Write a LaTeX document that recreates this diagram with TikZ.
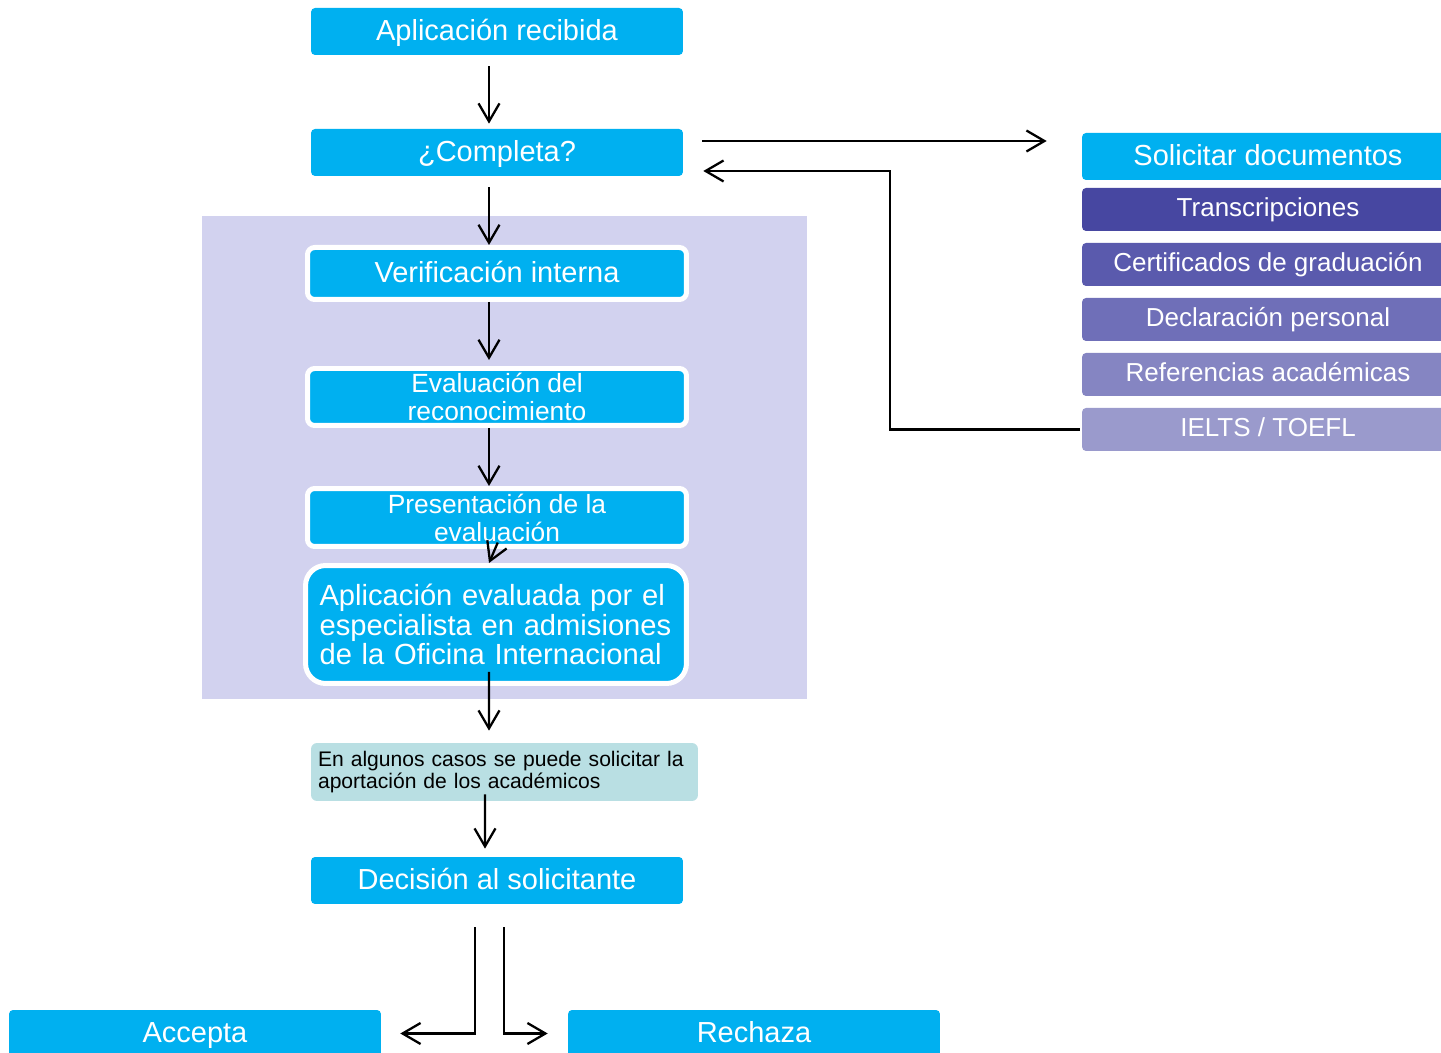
\documentclass[tikz,border=0pt]{standalone}
\usepackage{fontspec}
\setmainfont{Liberation Sans}
\usetikzlibrary{arrows.meta}
\definecolor{cyanbox}{HTML}{00B0F0}
\definecolor{panel}{HTML}{D2D2EF}
\definecolor{notecol}{HTML}{B9DFE3}
\definecolor{docA}{HTML}{4747A1}
\definecolor{docB}{HTML}{5A5AAD}
\definecolor{docC}{HTML}{6F6FB8}
\definecolor{docD}{HTML}{8585C2}
\definecolor{docE}{HTML}{9A9ACC}
\begin{document}
\begin{tikzpicture}[x=0.02cm,y=-0.02cm,
  arr/.style={-{Straight Barb[length=0.36cm,width=0.42cm]},line width=1.3pt},
  box/.style={fill=cyanbox,rounded corners=0.08cm,minimum width=7.44cm,minimum height=0.94cm,inner sep=0pt,text=white,text height=13.7pt,text depth=3.5pt,font=\fontsize{16.5}{18}\selectfont},
  wbox/.style={box,draw=white,line width=0.1cm,minimum width=7.58cm,minimum height=1.04cm,rounded corners=0.14cm},
  doc/.style={rounded corners=0.08cm,minimum width=7.44cm,minimum height=0.86cm,inner sep=0pt,text=white,text height=11.3pt,text depth=3.1pt,font=\fontsize{14.8}{16}\selectfont}]

\useasboundingbox (0,0) rectangle (1441,1053);
\clip (0,0) rectangle (1441,1053);

% fondo de la evaluacion interna
\fill[panel] (202,216) rectangle (807,699);

\node[box] (rec) at (497,31.5) {Aplicación recibida};
\node[box] (comp) at (497,152.5) {¿Completa?};
\node[wbox] (verif) at (497,273.5) {Verificación interna};
\node[wbox,text height=,text depth=,minimum height=1.14cm,align=center,font=\fontsize{15}{16}\selectfont] (evrec) at (497,397) {Evaluación del\\reconocimiento};
\node[wbox,text height=,text depth=,minimum height=1.16cm,align=center,font=\fontsize{15}{16}\selectfont] (pres) at (497,517.5) {Presentación de la\\evaluación};
\node[wbox,text height=,text depth=,rounded corners=0.4cm,minimum width=7.62cm,minimum height=2.36cm,align=left,text width=7.06cm,inner xsep=0.28cm,font=\fontsize{16.6}{17}\selectfont] (esp) at (496,624.5) {Aplicación evaluada por el\\especialista en admisiones\\de la Oficina Internacional};
\node[fill=notecol,rounded corners=0.12cm,minimum width=7.74cm,minimum height=1.16cm,align=left,text width=7.46cm,inner xsep=0.14cm,inner ysep=0pt,font=\fontsize{12}{12.5}\selectfont] (nota) at (504.5,772) {En algunos casos se puede solicitar la\\aportación de los académicos};
\node[box] (dec) at (497,880.5) {Decisión al solicitante};
\node[box] (acc) at (195,1033.5) {Accepta};
\node[box] (rech) at (754,1033.5) {Rechaza};

% documentos que faltan
\node[box] (sol) at (1268,156.5) {Solicitar documentos};
\node[doc,fill=docA] (tra) at (1268,209.5) {Transcripciones};
\node[doc,fill=docB] (cert) at (1268,264.5) {Certificados de graduación};
\node[doc,fill=docC] (decl) at (1268,319.5) {Declaración personal};
\node[doc,fill=docD] (ref) at (1268,374.5) {Referencias académicas};
\node[doc,fill=docE] (ielts) at (1268,429.5) {IELTS / TOEFL};

\draw[arr,shorten <=0.22cm,shorten >=0.1cm] ([xshift=-0.16cm]rec.south) -- ([xshift=-0.16cm]comp.north);
\draw[arr,shorten <=0.22cm] ([xshift=-0.16cm]comp.south) -- ([xshift=-0.16cm]verif.north);
\draw[arr,shorten >=0.12cm] ([xshift=-0.16cm]verif.south) -- ([xshift=-0.16cm]evrec.north);
\draw[arr] ([xshift=-0.16cm]evrec.south) -- ([xshift=-0.16cm]pres.north);
\draw[arr,shorten <=-0.14cm] ([xshift=-0.04cm]pres.south) -- ([xshift=-0.14cm]esp.north);
\draw[arr,shorten <=-0.28cm,shorten >=0.24cm] ([xshift=-0.14cm]esp.south) -- ([xshift=-0.31cm]nota.north);
\draw[arr,shorten <=-0.14cm,shorten >=0.16cm] ([xshift=-0.39cm]nota.south) -- ([xshift=-0.24cm]dec.north);

\draw[arr,shorten <=0.46cm,shorten >=0.38cm] ([xshift=-0.44cm]dec.south) |- (acc.east);
\draw[arr,shorten <=0.46cm,shorten >=0.4cm] ([xshift=0.14cm]dec.south) |- (rech.west);

\draw[arr,shorten <=0.38cm,shorten >=0.7cm] ([yshift=0.23cm]comp.east) -- ([yshift=0.23cm]comp.east -| sol.west);
\draw[arr,shorten <=0.04cm,shorten >=0.4cm] (ielts.west) -- ++(-192,0) |- ([yshift=-0.37cm]comp.east);
\end{tikzpicture}
\end{document}
